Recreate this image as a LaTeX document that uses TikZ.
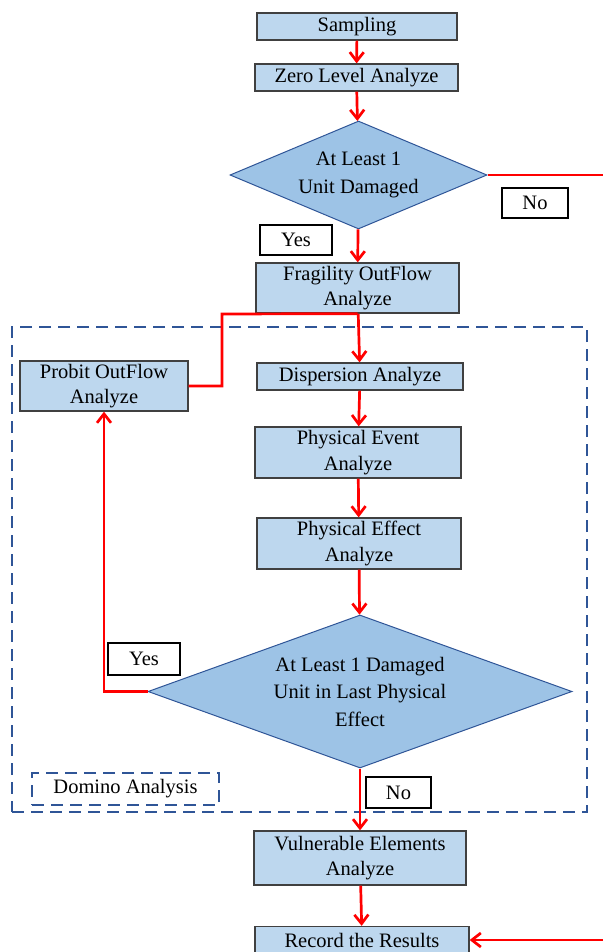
\documentclass[tikz,border=0pt]{standalone}
\usepackage{fontspec}
\setmainfont{Liberation Serif}
\usepackage{tikz}
\usetikzlibrary{shapes.geometric, arrows.meta}
\definecolor{boxblue}{HTML}{BDD7EE}
\definecolor{diablue}{HTML}{9DC3E6}
\definecolor{dashblue}{HTML}{2F5597}
\definecolor{edgegray}{HTML}{404040}
\tikzstyle{process} = [rectangle, 
minimum width=204, 
minimum height=27, 
inner sep=0pt,
align=center, 
draw=edgegray, 
line width=1.3pt,
fill=boxblue]
\tikzstyle{decision} = [diamond, 
inner sep=0pt, 
align=center, 
font=\fontsize{20.5}{27.5}\selectfont,
draw=dashblue, 
line width=1pt,
fill=diablue]
\tikzstyle{answer} = [rectangle, 
minimum width=70, 
minimum height=30, 
inner sep=0pt,
draw=black, 
line width=1.3pt,
fill=white]
\tikzstyle{frame} = [rectangle, 
inner sep=0pt,
draw=dashblue, 
line width=2pt,
dash pattern=on 12pt off 7pt]
\tikzstyle{arrow} = [red, line width=2.7pt, -{Straight Barb[length=9pt,width=14pt]}]
\tikzstyle{line} = [red, line width=2.7pt]

\begin{document}
\begin{tikzpicture}[x=1pt, y=-1pt, font=\fontsize{20.5}{25.5}\selectfont]
\useasboundingbox (0,0) rectangle (602,952);

% domino frame
\node (domino) [frame, minimum width=575, minimum height=485] at (299.5,569.5) {};
\node (dlabel) [frame, minimum width=187, minimum height=32] at (125.5,789) {Domino Analysis};

\node (samp) [process, minimum width=200] at (357,26.5) {Sampling};
\node (zero) [process, minimum width=203] at (356.5,77.5) {Zero Level Analyze};
\node (dam1) [decision, minimum width=257, minimum height=108, aspect=2.4] at (358.5,175) {At Least 1\\Unit Damaged};
\node (frag) [process, minimum width=203, minimum height=50] at (357.5,288) {Fragility OutFlow\\Analyze};

\node (yes1) [answer, minimum width=72] at (296,240) {Yes};
\node (no1) [answer, minimum width=66] at (535,203) {No};

\node (probit) [process, minimum width=168, minimum height=50] at (104,386) {Probit OutFlow\\Analyze};
\node (disp) [process, minimum width=206] at (360,376.5) {Dispersion Analyze};
\node (event) [process, minimum width=206, minimum height=51] at (358,452.5) {Physical Event\\Analyze};
\node (effect) [process, minimum width=204, minimum height=51] at (359,543.5) {Physical Effect\\Analyze};
\node (dam2) [decision, minimum width=424, minimum height=153, aspect=2.77] at (360,691.5) {At Least 1 Damaged\\Unit in Last Physical\\Effect};

\node (yes2) [answer, minimum width=72, minimum height=32] at (144,659) {Yes};
\node (no2) [answer, minimum width=65, minimum height=31] at (398.5,792.5) {No};

\node (vuln) [process, minimum width=212, minimum height=54] at (360,858) {Vulnerable Elements\\Analyze};
\node (record) [process, minimum width=214] at (362,940) {Record the Results};

\coordinate (bend) at (222,314);
\coordinate (noout) at (614,175);

\draw [arrow] (samp) -- (zero);
\draw [arrow] (zero) -- (dam1);
\draw [arrow] (dam1) -- (frag);
\draw [arrow] (frag) -- (disp);
\draw [line] (probit.east) -| (bend) -- (frag.south);
\draw [arrow] (disp) -- (event);
\draw [arrow] (event) -- (effect);
\draw [arrow] (effect) -- (dam2);
\draw [arrow] (dam2.west) -| (probit.south);
\draw [arrow] (dam2) -- (vuln);
\draw [arrow] (vuln) -- (record);
\draw [arrow] (dam1.east) -- (noout) |- (record.east);

\end{tikzpicture}
\end{document}
